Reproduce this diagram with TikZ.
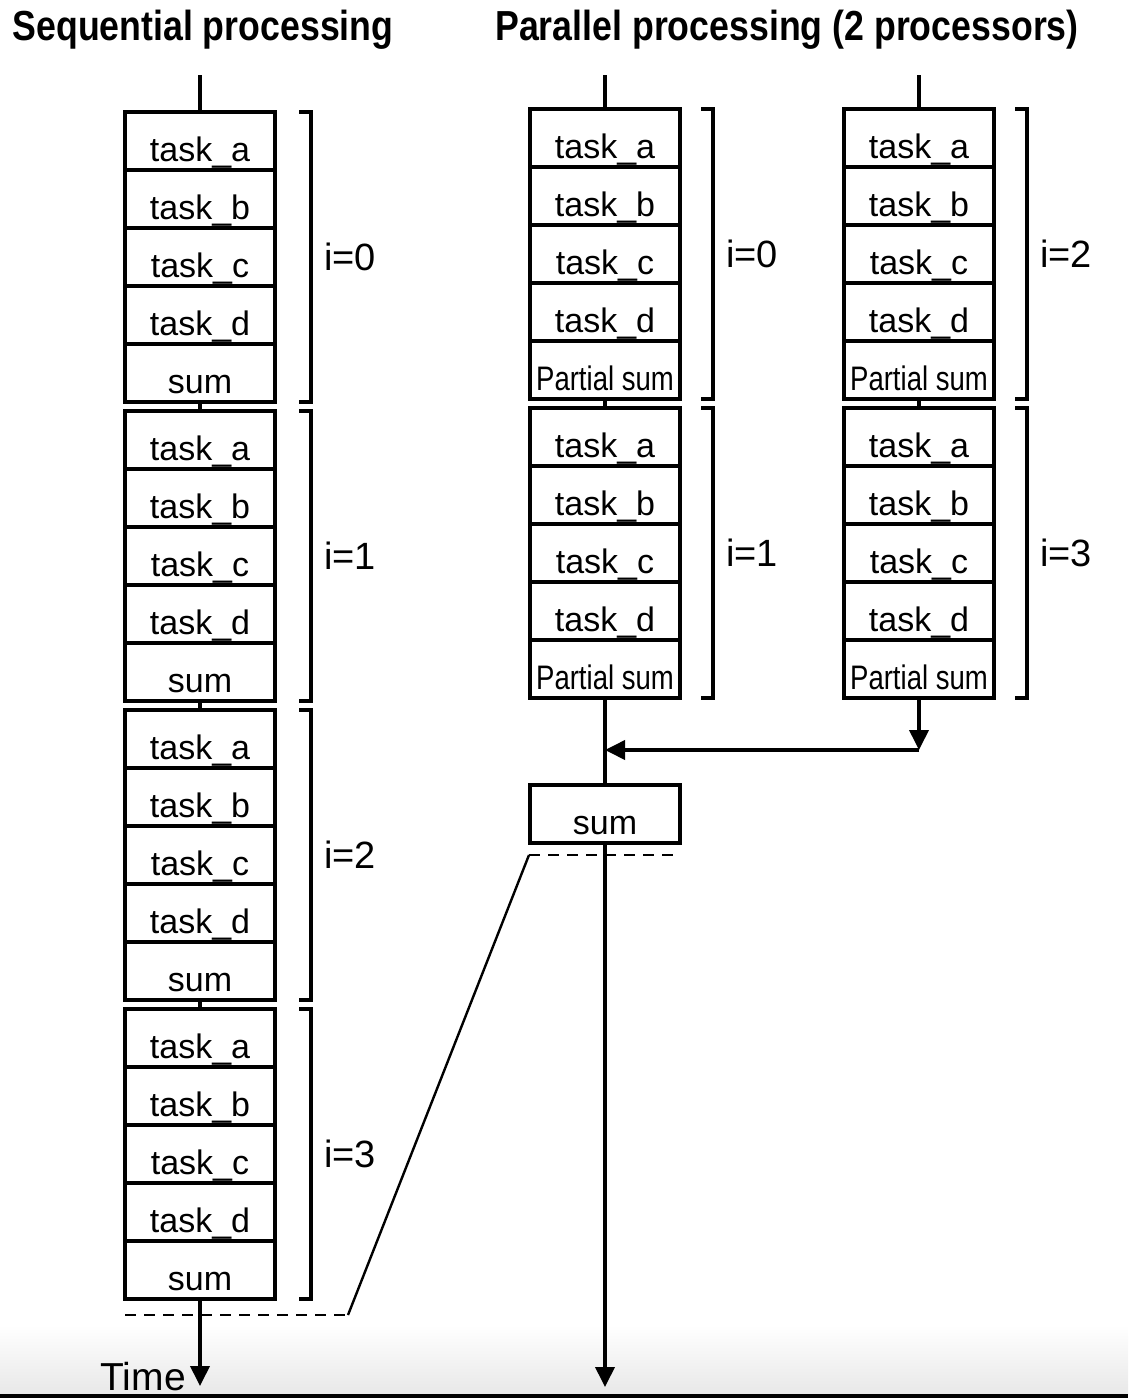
\documentclass[tikz,border=0pt]{standalone}
\usepackage{fontspec}
\setmainfont{Liberation Sans}
\usepackage{graphicx}
\usetikzlibrary{positioning,arrows.meta}

\newcommand{\partialsum}{\scalebox{0.81}[1]{Partial sum}}

\tikzset{
  row/.style={draw, line width=4.4pt, minimum width=150pt, minimum height=58pt,
    inner sep=0pt, outer sep=0pt, anchor=north, text height=42pt, text depth=2pt,
    font=\fontsize{34}{40}\selectfont},
  bracket/.style={line width=3.4pt},
  ilabel/.style={anchor=west, inner sep=0pt, font=\fontsize{38}{40}\selectfont},
  link/.style={line width=3.8pt},
  flow/.style={line width=3.8pt, -{Triangle[length=20pt,width=19pt]}},
  cut/.style={line width=2.8pt, dash pattern=on 11pt off 8pt},
  title/.style={anchor=base, inner sep=0pt, font=\fontsize{42}{44}\selectfont\bfseries}
}

\begin{document}
\begin{tikzpicture}[x=1pt, y=1pt, node distance=0pt]
\useasboundingbox (0,0) rectangle (1128,-1398);
\fill[white] (0,0) rectangle (1128,-1398);
\shade[top color=white, bottom color=black!9] (0,-1325) rectangle (1128,-1394);
\fill[black] (0,-1394) rectangle (1128,-1398);

\node[title] (seqtitle) at (203,-40) {\scalebox{0.85}[1]{Sequential processing}};
\node[title] (partitle) at (787,-40) {\scalebox{0.85}[1]{Parallel processing (2 processors)}};

% sequential column
\foreach \k in {0,...,3}{
  \node[row] (s\k-a) at (200,{-112-299*\k}) {task\_a};
  \node[row, below=of s\k-a] (s\k-b) {task\_b};
  \node[row, below=of s\k-b] (s\k-c) {task\_c};
  \node[row, below=of s\k-c] (s\k-d) {task\_d};
  \node[row, below=of s\k-d] (s\k-e) {sum};
  \draw[bracket] ([xshift=24pt]s\k-a.north east) -| ([xshift=36pt]s\k-e.south east)
    -- ([xshift=24pt]s\k-e.south east);
  \node[ilabel] (si\k) at ([xshift=49pt]s\k-c.east) {i=\k};
}
\foreach \k [count=\n from 1] in {0,1,2}
  \draw[link] (s\k-e.south) -- (s\n-a.north);
\draw[link] (s0-a.north) -- ++(0,37);

% parallel columns
\foreach \col/\x/\i/\j in {p/605/0/1, q/919/2/3}{
  \foreach \k/\lab in {0/\i, 1/\j}{
    \node[row] (\col\k-a) at (\x,{-109-299*\k}) {task\_a};
    \node[row, below=of \col\k-a] (\col\k-b) {task\_b};
    \node[row, below=of \col\k-b] (\col\k-c) {task\_c};
    \node[row, below=of \col\k-c] (\col\k-d) {task\_d};
    \node[row, below=of \col\k-d] (\col\k-e) {\partialsum};
    \draw[bracket] ([xshift=21pt]\col\k-a.north east) -| ([xshift=33pt]\col\k-e.south east)
      -- ([xshift=21pt]\col\k-e.south east);
    \node[ilabel] (\col i\k) at ([xshift=46pt]\col\k-c.east) {i=\lab};
  }
  \draw[link] (\col0-e.south) -- (\col1-a.north);
  \draw[link] (\col0-a.north) -- ++(0,34);
}

\coordinate (join) at (q1-e.south |- 0,-750);
\draw[flow] (q1-e.south) -- (join);
\draw[flow] (join) -- (join -| p1-e.south);

\node[row] (total) at (605,-785) {sum};
\draw[link] (p1-e.south) -- (total.north);

% time axes
\draw[flow] (total.south) -- ++(0,-544);
\draw[flow] (s3-e.south) -- ++(0,-87);
\node[anchor=base east, inner sep=0pt, font=\fontsize{39}{40}\selectfont] (time) at (186,-1390) {Time};

% zoom lines
\coordinate (zs) at (348,-1315);
\coordinate (zp) at (529,-855);
\draw[cut] (s3-e.south west |- zs) -- (zs);
\draw[line width=2.4pt] (zs) -- (zp);
\draw[cut] (zp) -- (total.south east |- zp);
\end{tikzpicture}
\end{document}
